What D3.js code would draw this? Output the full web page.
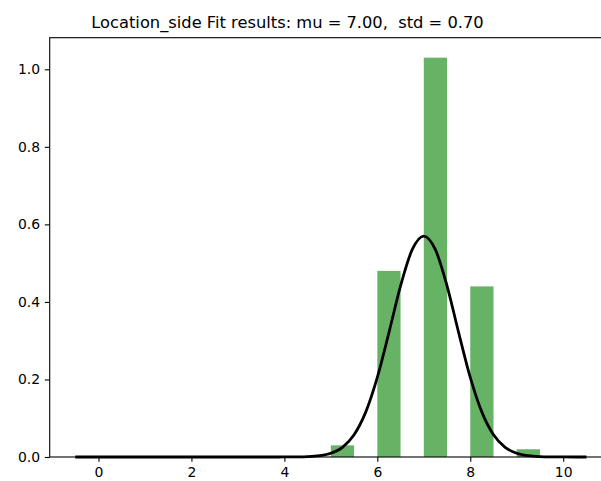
<!DOCTYPE html>
<html>
<head>
<meta charset="utf-8">
<script src="https://cdn.jsdelivr.net/npm/d3@7"></script>
<style>
  html, body { margin: 0; padding: 0; background: #fff; }
  svg { display: block; }
  text { font-family: "DejaVu Sans", sans-serif; }
</style>
</head>
<body>
<script>
// Histogram bins (left edge) and density heights
const binStarts = [5, 6, 7, 8, 9];
const binWidth = 0.5;
const binHeights = [0.03, 0.48, 1.03, 0.44, 0.02];

const curveX = [-0.5, 3.75, 4.0, 4.25, 4.5, 4.75, 5.0, 5.25, 5.5, 5.75, 6.0, 6.25, 6.5, 6.75, 7.0,
                7.25, 7.5, 7.75, 8.0, 8.25, 8.5, 8.75, 9.0, 9.25, 9.5, 9.75, 10.0, 10.25, 10.5];
const curveY = [0.0, 0.0000, 0.00006, 0.0003, 0.00097, 0.00325, 0.00962, 0.02504, 0.0574, 0.1157, 0.2054, 0.3210, 0.4416, 0.5347, 0.5699,
                0.5347, 0.4416, 0.3210, 0.2054, 0.1157, 0.0574, 0.02504, 0.00962, 0.00325, 0.00097, 0.0003, 0.00006, 0.0000, 0.0];

const xTicks = [0, 2, 4, 6, 8, 10];
const yTicks = [0.0, 0.2, 0.4, 0.6, 0.8, 1.0];
const titleText = "Location_side Fit results: mu = 7.00,  std = 0.70";

const W = 601, H = 481;
const mLeft = 49.7, mRight = 612, mTop = 37.7, mBottom = 457;

const x = d3.scaleLinear().domain([-1.05, 11.05]).range([mLeft, mRight]);
const y = d3.scaleLinear().domain([0, 1.0815]).range([mBottom, mTop]);

const svg = d3.select("body").append("svg").attr("width", W).attr("height", H);

// Bars
svg.append("g").selectAll("rect")
  .data(binStarts.map((s, i) => ({ s, h: binHeights[i] })))
  .join("rect")
  .attr("x", d => x(d.s))
  .attr("width", d => x(d.s + binWidth) - x(d.s))
  .attr("y", d => y(d.h))
  .attr("height", d => y(0) - y(d.h))
  .attr("fill", "green")
  .attr("fill-opacity", 0.6);

// Curve
const line = d3.line().x((d, i) => x(curveX[i])).y(d => y(d)).curve(d3.curveMonotoneX);
svg.append("path")
  .attr("d", line(curveY))
  .attr("fill", "none")
  .attr("stroke", "black")
  .attr("stroke-width", 2.78)
  .attr("stroke-linejoin", "round");

// Axes
const xAxis = d3.axisBottom(x).tickValues(xTicks).tickFormat(d3.format("d")).tickSize(4.86).tickPadding(4.86);
const gx = svg.append("g").attr("transform", `translate(0,${mBottom})`).call(xAxis);
const yAxis = d3.axisLeft(y).tickValues(yTicks).tickFormat(d3.format(".1f")).tickSize(4.86).tickPadding(4.86);
const gy = svg.append("g").attr("transform", `translate(${mLeft},0)`).call(yAxis);
[gx, gy].forEach(g => {
  g.select(".domain").remove();
  g.selectAll(".tick line").attr("stroke", "black").attr("stroke-width", 1.1);
  g.selectAll(".tick text").attr("fill", "black").style("font-size", "13.9px").style("font-family", "DejaVu Sans");
});

// Spines
svg.append("rect")
  .attr("x", mLeft).attr("y", mTop)
  .attr("width", mRight - mLeft).attr("height", mBottom - mTop)
  .attr("fill", "none").attr("stroke", "black").attr("stroke-width", 1.1);

// Title
svg.append("text")
  .attr("x", 287.5).attr("y", 28)
  .attr("text-anchor", "middle")
  .style("font-size", "16.3px")
  .style("white-space", "pre")
  .attr("xml:space", "preserve")
  .attr("fill", "black")
  .text(titleText);
</script>
</body>
</html>
